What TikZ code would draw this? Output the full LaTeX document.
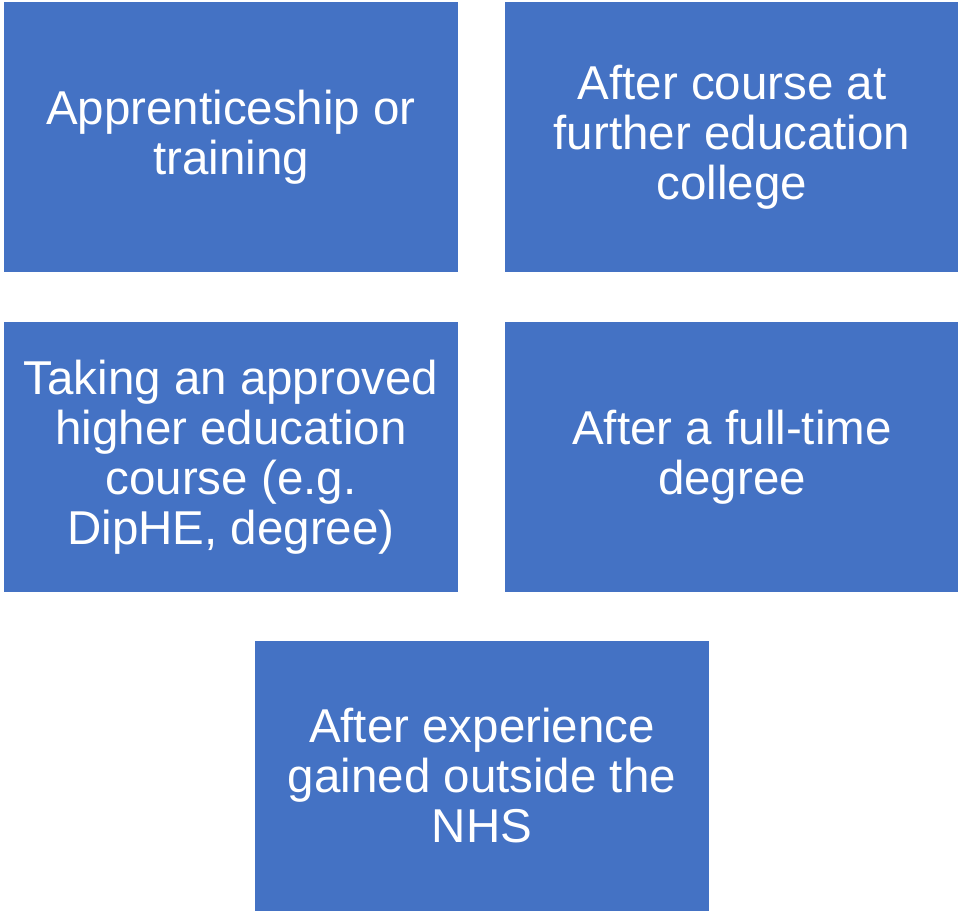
\documentclass[tikz,border=0pt]{standalone}
\usepackage{fontspec}
\setmainfont{Liberation Sans}
\definecolor{boxblue}{HTML}{4472C4}
\tikzset{
	pathbox/.style={fill=boxblue,draw=none,minimum width=454pt,minimum height=270pt,inner sep=0pt,
		text=white,align=center,font=\fontsize{47.5}{50}\selectfont}
}
\begin{document}
\begin{tikzpicture}[x=1pt,y=1pt]
				\useasboundingbox(0,0)rectangle(958,-910);
				\node[pathbox](appr)at(231,-137){Apprenticeship or\\training};
				\node[pathbox](further)at(732,-137){After course at\\further education\\college};
				\node[pathbox](higher)at(231,-457){Taking an approved\\higher education\\course (e.g.\\DipHE, degree)};
				\node[pathbox](degree)at(732,-457){After a full-time\\degree};
				\node[pathbox](outside)at(482,-775.5){After experience\\gained outside the\\NHS};
			\end{tikzpicture}
\end{document}
